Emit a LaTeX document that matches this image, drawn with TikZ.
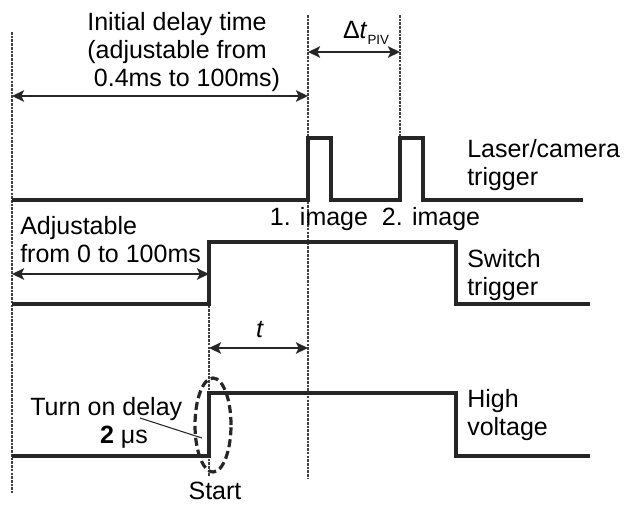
\documentclass[tikz,border=0pt]{standalone}
\usepackage{fontspec}
\setmainfont{Liberation Sans}
\usetikzlibrary{arrows.meta,positioning,calc,shapes.geometric}
\definecolor{tipnavy}{RGB}{36,40,120}
\tikzset{
  >={Stealth[length=9pt,width=8.5pt,inset=2pt]},
  sig/.style={line width=3pt,black!85},
  guide/.style={line width=0.8pt,black!75,dash pattern=on 2pt off 0.8pt},
  span/.style={<->,line width=2.2pt,black!85},
  spanblue/.style={{Stealth[length=9pt,width=8.5pt,inset=2pt,fill=tipnavy]}-{Stealth[length=9pt,width=8.5pt,inset=2pt,fill=tipnavy]},
    line width=2.2pt,black!85},
  lbl/.style={font=\fontsize{18.75}{21}\selectfont,inner sep=0pt},
  lbll/.style={lbl,align=left,anchor=base west},
  ring/.style={ellipse,draw,line width=2.4pt,black!85,dash pattern=on 6pt off 3pt,
    minimum width=27pt,minimum height=70.5pt,inner sep=0pt},
  pointer/.style={line width=0.8pt,black!85},
}

\begin{document}
\begin{tikzpicture}[x=0.75pt,y=-0.75pt]
  \useasboundingbox (0,0) rectangle (625,504);
  % guide lines
  \coordinate (g0t) at (12,32);   \coordinate (g0b) at (12,493);
  \coordinate (g1t) at (209,242); \coordinate (g1b) at (209,477);
  \coordinate (g2t) at (308,15);  \coordinate (g2b) at (308,478);
  \coordinate (g3t) at (400,15);  \coordinate (g3b) at (400,200);
  \foreach \g in {0,...,3} \draw[guide] (g\g t) -- (g\g b);
  % waveforms
  \draw[sig] (12,200) -| (308,138) -| (331,200) -| (400,138) -| (423,200) -- (583,200);
  \draw[sig] (12,304) -| (209,242) -| (456,304) -- (590,304);
  \draw[sig] (12,456) -| (209,393) -| (456,456) -- (590,456);
  % time spans
  \coordinate (d0) at (12,96);   \coordinate (d1) at (308,96);
  \coordinate (p0) at (308,52);  \coordinate (p1) at (400,52);
  \coordinate (a0) at (12,274);  \coordinate (a1) at (209,274);
  \coordinate (t0) at (209,348); \coordinate (t1) at (308,348);
  \draw[span] (d0) -- (d1);
  \draw[span] (p0) -- (p1);
  \draw[spanblue] (a0) -- (a1);
  \draw[span] (t0) -- (t1);
  % labels (base of a multi-line node is its last line)
  \node[lbl,align=center,anchor=base] (init) at (177,86)
    {Initial delay time\\(adjustable from\\\hspace*{0.8em}0.4ms to 100ms)};
  \node[lbl,anchor=base] (dtpiv) at (366,38)
    {Δ\textit{t}\raisebox{-0.25em}{\fontsize{10}{10}\selectfont PIV}};
  \node[lbll] (laser) at (467,185) {Laser/camera\\trigger};
  \node[lbl,anchor=base] (shots) at (375,225) {1. image\ \ 2. image};
  \node[lbll] (adj) at (20,262) {Adjustable\\from 0 to 100ms};
  \node[lbll] (switch) at (467,295) {Switch\\trigger};
  \node[lbl,anchor=base] (tlab) at (260,337) {\textit{t}};
  \node[lbll] (hv) at (467,435) {High\\voltage};
  \node[lbll] (turnon) at (30,415) {Turn on delay};
  \node[lbl,anchor=base] (twous) at (124,443) {\textbf{2} μs};
  \node[lbl,anchor=base] (start) at (215,499) {Start};
  \node[ring] (ring) at (213,425) {};
  \coordinate (ptrA) at (140,418); \coordinate (ptrB) at (202,438);
  \draw[pointer] (ptrA) -- (ptrB);
\end{tikzpicture}
\end{document}
